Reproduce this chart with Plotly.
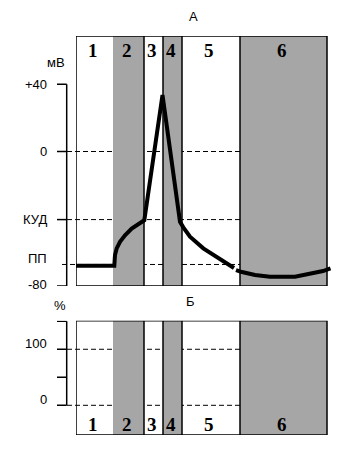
import plotly.graph_objects as go

# ---------------- data ----------------
phase_labels = ["1", "2", "3", "4", "5", "6"]
phase_edges = [0, 37, 68, 87, 106, 164, 251]          # time (a.u.)
phase_shaded = [False, True, False, True, False, True]
divider_edges = [68, 87, 106, 164]

# membrane potential curve (mV), two pieces
t_a = [0, 38.3, 39, 40.7, 44, 49, 55.7, 62.3, 68.3, 86.5, 104, 107.3, 114, 127.3, 140.7, 155.7, 158]
v_a = [-68, -68, -61.6, -57.6, -53.7, -49.9, -45.9, -42.9, -40.9, 33.6, -41.8, -45.1, -50.7, -57.6, -62.9, -68.5, -69.3]
t_b = [160, 166, 179, 194, 219, 227, 237, 247, 254.5]
v_b = [-70.5, -71.7, -73.5, -74.5, -74.5, -73.5, -72.5, -71.1, -69.5]

mv_range = [-80, 68.7]
mv_tick_vals = [40, 0, -40.5, -67.2, -80]
mv_tick_text = ["+40", "0", "КУД", "ПП", "-80"]
mv_dashed = [0, -40.5, -67.2]

pct_range = [-53, 151]
pct_tick_vals = [150, 100, 50, 0]
pct_label_vals = [100, 0]
pct_label_text = ["100", "0"]
pct_dashed = [100, 0]

# ---------------- layout helpers ----------------
OX, OY = 8, 8            # page body margin
W, H = 348, 442
def px(x):
    return (x - OX) / W
def py(y):
    return 1 - (y - OY) / H

GRAY = "#a6a6a6"
LBL_FONT = dict(family="Liberation Sans, Arial", size=13, color="black")
NUM_FONT = dict(family="Liberation Serif, Times New Roman", size=19, color="black", weight="bold")

fig = go.Figure()
fig.add_trace(go.Scatter(x=t_a, y=v_a, mode="lines", line=dict(color="black", width=4),
                         xaxis="x", yaxis="y", showlegend=False, hoverinfo="skip"))
fig.add_trace(go.Scatter(x=t_b, y=v_b, mode="lines", line=dict(color="black", width=4),
                         xaxis="x", yaxis="y", showlegend=False, hoverinfo="skip"))
fig.add_trace(go.Scatter(x=[None], y=[None], mode="lines", xaxis="x2", yaxis="y2",
                         showlegend=False, hoverinfo="skip"))

x0, x1 = phase_edges[0], phase_edges[-1]
shapes = []
annotations = []

for yref, xref, yr in (("y", "x", mv_range), ("y2", "x2", pct_range)):
    for i, sh in enumerate(phase_shaded):
        if sh:
            shapes.append(dict(type="rect", xref=xref, yref=yref, x0=phase_edges[i], x1=phase_edges[i + 1],
                               y0=yr[0], y1=yr[1], fillcolor=GRAY, line=dict(width=0), layer="below"))
    for e in divider_edges:
        shapes.append(dict(type="line", xref=xref, yref=yref, x0=e, x1=e, y0=yr[0], y1=yr[1],
                           line=dict(color="black", width=1.5), layer="below"))
    shapes.append(dict(type="rect", xref=xref, yref=yref, x0=x0, x1=x1, y0=yr[0], y1=yr[1],
                       line=dict(color="black", width=1.5), fillcolor="rgba(0,0,0,0)", layer="below"))

# top panel: dashed levels
for v in mv_dashed:
    start = px(62) if v == mv_dashed[-1] else px(67)
    end = px(327) if v == mv_dashed[-1] else px(323)
    shapes.append(dict(type="line", xref="paper", yref="y", x0=start, x1=end, y0=v, y1=v,
                       line=dict(color="black", width=1, dash="5px,3px"), layer="below"))
shapes.append(dict(type="line", xref="paper", yref="y", x0=px(66.7), x1=px(66.7),
                   y0=mv_tick_vals[-1], y1=mv_tick_vals[0], line=dict(color="black", width=1.5)))
for v, t in zip(mv_tick_vals, mv_tick_text):
    if t != "ПП":
        shapes.append(dict(type="line", xref="paper", yref="y", x0=px(57), x1=px(66.7), y0=v, y1=v,
                           line=dict(color="black", width=1.5)))
    shift = {"ПП": 6, "-80": 2}.get(t, 0)
    annotations.append(dict(xref="paper", yref="y", x=px(49), y=v, text=t, showarrow=False,
                            xanchor="right", yanchor="middle", yshift=shift, font=LBL_FONT))

# bottom panel
for v in pct_dashed:
    shapes.append(dict(type="line", xref="paper", yref="y2", x0=px(67), x1=px(323), y0=v, y1=v,
                       line=dict(color="black", width=1, dash="5px,3px"), layer="below"))
shapes.append(dict(type="line", xref="paper", yref="y2", x0=px(66.7), x1=px(66.7),
                   y0=pct_tick_vals[-1], y1=pct_tick_vals[0], line=dict(color="black", width=1.5)))
for v in pct_tick_vals:
    shapes.append(dict(type="line", xref="paper", yref="y2", x0=px(57), x1=px(66.7), y0=v, y1=v,
                       line=dict(color="black", width=1.5)))
for v, t in zip(pct_label_vals, pct_label_text):
    annotations.append(dict(xref="paper", yref="y2", x=px(49), y=v, text=t, showarrow=False,
                            xanchor="right", yanchor="middle", yshift=6, font=LBL_FONT))

# phase numbers
for i, lab in enumerate(phase_labels):
    cx = (phase_edges[i] + phase_edges[i + 1]) / 2
    annotations.append(dict(xref="x", yref="y domain", x=cx, y=0.944, text=lab, showarrow=False,
                            xanchor="center", yanchor="middle", xshift=-2, font=NUM_FONT))
    annotations.append(dict(xref="x2", yref="y2 domain", x=cx, y=0.09, text=lab, showarrow=False,
                            xanchor="center", yanchor="middle", xshift=-2, font=NUM_FONT))

annotations += [
    dict(xref="paper", yref="paper", x=px(193), y=py(8), text="А", showarrow=False,
         font=LBL_FONT, xanchor="center", yanchor="top", borderpad=0),
    dict(xref="paper", yref="paper", x=px(190), y=py(301), text="Б", showarrow=False,
         font=LBL_FONT, xanchor="center", yanchor="middle"),
    dict(xref="paper", yref="paper", x=px(56), y=py(62.5), text="мВ", showarrow=False,
         font=LBL_FONT, xanchor="center", yanchor="middle"),
    dict(xref="paper", yref="paper", x=px(60), y=py(305), text="%", showarrow=False,
         font=LBL_FONT, xanchor="center", yanchor="middle"),
]

xdom = [px(76), px(334)]
xr = [0, 258]
fig.update_layout(
    width=W, height=H, margin=dict(l=0, r=0, t=0, b=0),
    paper_bgcolor="white", plot_bgcolor="white",
    xaxis=dict(domain=xdom, range=xr, visible=False, anchor="y"),
    yaxis=dict(domain=[py(286), py(36)], range=mv_range, visible=False, anchor="x"),
    xaxis2=dict(domain=xdom, range=xr, visible=False, anchor="y2"),
    yaxis2=dict(domain=[py(435), py(320.7)], range=pct_range, visible=False, anchor="x2"),
    shapes=shapes, annotations=annotations, showlegend=False,
)

fig.write_html("out.html")
